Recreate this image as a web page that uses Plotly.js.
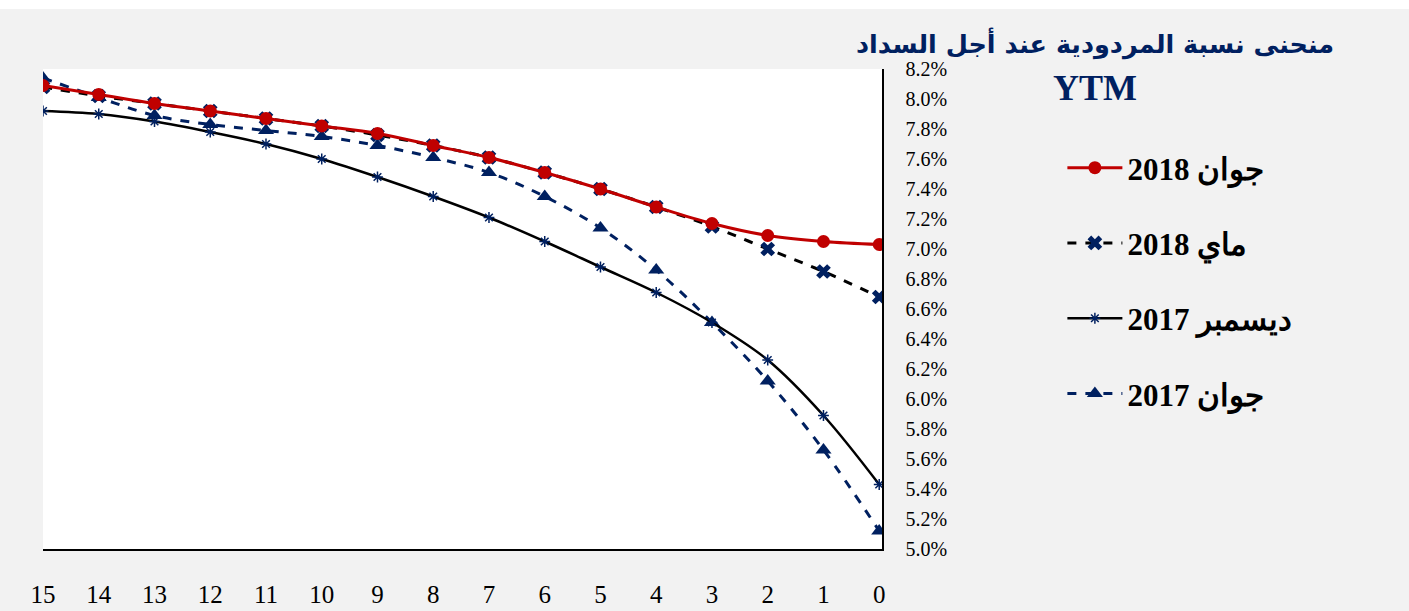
<!DOCTYPE html>
<html>
<head>
<meta charset="utf-8">
<script src="https://cdn.plot.ly/plotly-3.0.1.min.js"></script>
<style>
html,body{margin:0;padding:0;background:#ffffff;}
#chart{position:absolute;left:0;top:9px;width:1409px;height:602px;}
</style>
</head>
<body>
<div id="chart"></div>
<script>
// Maturity (years)
var maturities = [15,14,13,12,11,10,9,8,7,6,5,4,3,2,1,0];
// Yield (%) per curve
var june2018 = [8.09,8.03,7.97,7.92,7.87,7.82,7.77,7.69,7.61,7.51,7.40,7.28,7.17,7.09,7.05,7.03];
var may2018  = [8.08,8.02,7.97,7.92,7.87,7.82,7.76,7.69,7.61,7.51,7.40,7.28,7.15,7.00,6.85,6.68];
var dec2017  = [7.92,7.90,7.85,7.78,7.70,7.60,7.48,7.35,7.21,7.05,6.88,6.71,6.51,6.26,5.89,5.43];
var june2017 = [8.14,8.01,7.89,7.83,7.79,7.75,7.69,7.61,7.51,7.35,7.14,6.86,6.51,6.12,5.66,5.12];
var seriesNames = ['2018 جوان','2018 ماي','2017 ديسمبر','2017 جوان'];
var xTickLabels = ['15','14','13','12','11','10','9','8','7','6','5','4','3','2','1','0'];
var yTickVals = [5.0,5.2,5.4,5.6,5.8,6.0,6.2,6.4,6.6,6.8,7.0,7.2,7.4,7.6,7.8,8.0,8.2];
var titleLine1 = 'منحنى نسبة المردودية عند أجل السداد';
var titleLine2 = 'YTM';

var navy = '#002060';
var serif = '"Liberation Serif","Times New Roman",serif';

var traces = [
  {x: maturities, y: june2017, name: seriesNames[3], legendgroup:'g4', legendrank:4, mode:'lines+markers',
   line:{color:navy, width:3, dash:'dash', shape:'spline', smoothing:1},
   marker:{symbol:'triangle-up', size:14, color:navy}},
  {x: maturities, y: dec2017, name: seriesNames[2], legendgroup:'g3', legendrank:3, mode:'lines+markers',
   line:{color:'#000000', width:2.5, shape:'spline', smoothing:1},
   marker:{symbol:'asterisk-open', size:9, color:navy, line:{color:navy, width:1.5}}},
  {x: maturities, y: may2018, name: seriesNames[1], legendgroup:'g2', legendrank:2, mode:'lines+markers',
   line:{color:'#000000', width:3, dash:'dash', shape:'spline', smoothing:1},
   marker:{symbol:'x', size:13, color:navy}},
  {x: maturities, y: june2018, name: seriesNames[0], legendgroup:'g1', legendrank:1, mode:'lines+markers',
   line:{color:'#c00000', width:3, shape:'spline', smoothing:1},
   marker:{symbol:'circle', size:13, color:'#c00000'}}
];

var layout = {
  width:1409, height:602,
  paper_bgcolor:'#f2f2f2', plot_bgcolor:'#ffffff',
  margin:{l:43, r:527, t:60, b:62},
  showlegend:true,
  legend:{x:1.215, xanchor:'left', y:0.85, yanchor:'top', traceorder:'grouped',
    tracegroupgap:32, itemgap:0, bgcolor:'rgba(0,0,0,0)', itemwidth:55,
    font:{family:serif, size:31, color:'#000000', weight:'bold'}},
  xaxis:{range:[15,-0.05], tickmode:'array', tickvals:maturities, ticktext:xTickLabels,
    showgrid:false, zeroline:false, showline:true, linecolor:'#000000', linewidth:1.5,
    ticks:'', ticklabelstandoff:22, tickfont:{family:serif, size:25, color:'#000000'}},
  yaxis:{side:'right', range:[5.0,8.2], tickmode:'array', tickvals:yTickVals,
    ticktext:yTickVals.map(function(v){return v.toFixed(1)+'%';}),
    showgrid:false, zeroline:false, showline:true, linecolor:'#000000', linewidth:1.5,
    ticks:'', ticklabelstandoff:18, tickfont:{family:serif, size:20, color:'#000000'}},
  annotations:[
    {xref:'paper', yref:'paper', x:1.254, y:1.0, xanchor:'center', yanchor:'bottom', yshift:7,
     text:'<b>'+titleLine1+'</b>', showarrow:false,
     font:{family:'"DejaVu Sans", sans-serif', size:25.5, color:navy, weight:'bold'}},
    {xref:'paper', yref:'paper', x:1.254, y:1.0, xanchor:'center', yanchor:'middle', yshift:-19,
     text:'<b>'+titleLine2+'</b>', showarrow:false,
     font:{family:serif, size:36, color:navy}}
  ]
};

Plotly.newPlot('chart', traces, layout, {displayModeBar:false, staticPlot:true});
</script>
</body>
</html>
